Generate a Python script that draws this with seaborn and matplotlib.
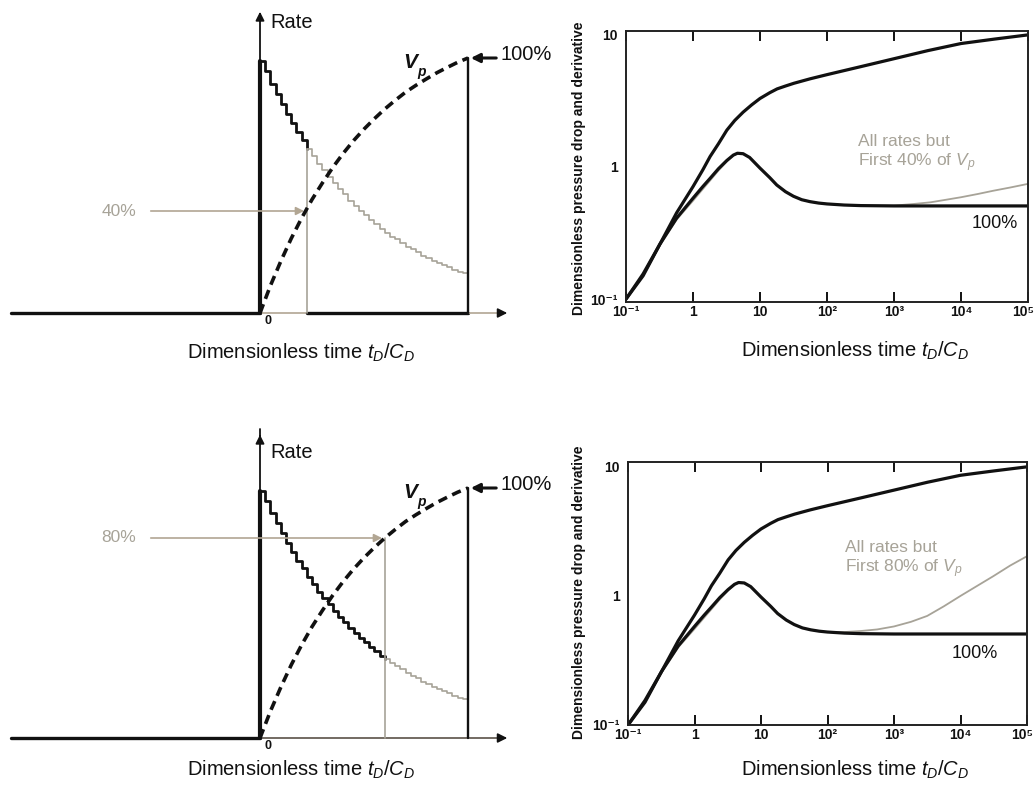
import matplotlib
matplotlib.use("Agg")
import matplotlib.pyplot as plt
from matplotlib.ticker import NullLocator
from matplotlib.transforms import ScaledTranslation
import seaborn as sns

sns.set_theme(style="white")
plt.rcParams["font.family"] = ["Liberation Sans", "DejaVu Sans"]
plt.rcParams["mathtext.fontset"] = "custom"
plt.rcParams["mathtext.rm"] = "Liberation Sans"
plt.rcParams["mathtext.it"] = "Liberation Sans:italic"
plt.rcParams["mathtext.bf"] = "Liberation Sans:bold"

# ---------------- data ----------------
# rate history (normalised), step start times (dimensionless, end of history = 1)
rate_time = [0.000, 0.025, 0.050, 0.075, 0.100, 0.125, 0.150, 0.175, 0.200, 0.225,
             0.250, 0.275, 0.300, 0.325, 0.350, 0.375, 0.400, 0.425, 0.450, 0.475,
             0.500, 0.525, 0.550, 0.575, 0.600, 0.625, 0.650, 0.675, 0.700, 0.725,
             0.750, 0.775, 0.800, 0.825, 0.850, 0.875, 0.900, 0.925, 0.950, 0.975, 1.000]
rate_values = [0.99, 0.95, 0.90, 0.86, 0.82, 0.78, 0.745, 0.71, 0.68, 0.645,
               0.615, 0.585, 0.56, 0.535, 0.51, 0.485, 0.465, 0.44, 0.42, 0.40,
               0.385, 0.365, 0.35, 0.33, 0.315, 0.30, 0.29, 0.275, 0.26, 0.25,
               0.24, 0.225, 0.215, 0.205, 0.195, 0.19, 0.18, 0.17, 0.16, 0.155, 0.145]
# cumulative produced volume Vp (fraction of total)
vp_time = [0.00, 0.05, 0.10, 0.15, 0.20, 0.25, 0.30, 0.35, 0.40, 0.45, 0.50,
           0.55, 0.60, 0.65, 0.70, 0.75, 0.80, 0.85, 0.90, 0.95, 1.00]
vp_values = [0.0, 0.107, 0.203, 0.292, 0.372, 0.445, 0.510, 0.571, 0.626, 0.676, 0.721,
             0.762, 0.800, 0.834, 0.866, 0.893, 0.918, 0.942, 0.963, 0.983, 1.0]
pct_levels = [0.40, 0.80]
pct_labels = ["40%", "80%"]
cut_times = [0.225, 0.600]

# log-log type curves
p_time = [0.1, 0.18, 0.32, 0.57, 1.0, 1.4, 1.8, 2.4, 3.2, 4.2, 5.6, 7.5, 10, 14, 18, 24, 32,
          56, 100, 320, 1000, 3200, 1e4, 3.2e4, 1e5]
p_drop = [0.1, 0.155, 0.26, 0.45, 0.71, 0.95, 1.2, 1.5, 1.9, 2.25, 2.6, 2.95, 3.3, 3.65, 3.9,
          4.1, 4.3, 4.65, 5.0, 5.75, 6.6, 7.6, 8.6, 9.3, 10.0]
d_time = [0.1, 0.18, 0.32, 0.57, 1.0, 1.4, 1.8, 2.4, 3.2, 4.0, 4.6, 5.6, 7.0, 10, 14, 17.8,
          24, 31.6, 42, 56, 75, 100, 180, 320, 1000, 1e4, 1e5]
d_values = [0.1, 0.15, 0.26, 0.41, 0.58, 0.71, 0.82, 0.97, 1.12, 1.23, 1.27, 1.26, 1.18, 0.98,
            0.83, 0.73, 0.65, 0.60, 0.565, 0.546, 0.533, 0.525, 0.515, 0.51, 0.507, 0.507, 0.507]
part40_time = [0.1, 0.18, 0.32, 0.57, 1.0, 1.4, 1.8, 2.4, 3.2, 4.0, 4.6, 5.6, 7.0, 10, 14, 17.8,
               24, 31.6, 42, 56, 75, 100, 180, 320, 1000, 2000, 3500, 6000, 1e4, 1.8e4, 3e4,
               5.5e4, 1e5]
part40_values = [0.1, 0.15, 0.255, 0.40, 0.555, 0.68, 0.79, 0.94, 1.10, 1.22, 1.27, 1.26, 1.18,
                 0.98, 0.83, 0.73, 0.65, 0.60, 0.565, 0.546, 0.533, 0.525, 0.515, 0.51, 0.51,
                 0.525, 0.54, 0.565, 0.59, 0.625, 0.66, 0.70, 0.745]
part80_time = [0.1, 0.18, 0.32, 0.57, 1.0, 1.4, 1.8, 2.4, 3.2, 4.0, 4.6, 5.6, 7.0, 10, 14, 17.8,
               24, 31.6, 42, 56, 75, 100, 180, 320, 560, 1000, 1800, 3160, 5600, 1e4, 1.8e4,
               3.1e4, 5.6e4, 1e5]
part80_values = [0.1, 0.15, 0.255, 0.40, 0.555, 0.68, 0.79, 0.94, 1.10, 1.22, 1.27, 1.26, 1.18,
                 0.98, 0.83, 0.73, 0.65, 0.60, 0.565, 0.546, 0.533, 0.525, 0.525, 0.535, 0.55,
                 0.58, 0.63, 0.70, 0.83, 1.0, 1.2, 1.42, 1.72, 2.03]
partial_times = [part40_time, part80_time]
partial_values = [part40_values, part80_values]

xtick_vals = [0.1, 1, 10, 100, 1e3, 1e4, 1e5]
xtick_labels = ["10⁻¹", "1", "10", "10²", "10³", "10⁴", "10⁵"]
ytick_vals = [0.1, 1, 10]
ytick_labels = ["10⁻¹", "1", "10"]

# ---------------- styling ----------------
W, H = 1036, 786
BLACK = "#111111"
GRAY = "#a7a398"
TAN = "#b2a693"
LABEL_TXT = "Dimensionless time $t_D/C_D$"

fig = plt.figure(figsize=(W / 100, H / 100), dpi=100)
fig.patch.set_facecolor("white")


def fx(x):
    return x / W


def fy(y):
    return 1 - y / H


def line(ax, xs, ys, **kw):
    sns.lineplot(x=xs, y=ys, ax=ax, estimator=None, sort=False, legend=False, **kw)
    return ax.lines[-1]


def draw_schedule(row, box_top, box_bot, oy, uy, xlab_y):
    ox, ux = 260.0, 208.0
    ax = fig.add_axes([0, fy(box_bot), 560 / W, (box_bot - box_top) / H])
    ax.set_xlim((0 - ox) / ux, (560 - ox) / ux)
    ax.set_ylim((oy - box_bot) / uy, (oy - box_top) / uy)
    ax.axis("off")
    tx = lambda px: (px - ox) / ux
    vy = lambda py: (oy - py) / uy
    pct = pct_levels[row]
    t_cut = cut_times[row]
    i_cut = rate_time.index(t_cut)
    rate_cut = rate_values[i_cut]

    # horizontal (time) axis
    line(ax, [tx(11), 0], [0, 0], color=BLACK, lw=2.4)
    if row == 0:
        line(ax, [0, t_cut], [0, 0], color=TAN, lw=1.2)
        line(ax, [t_cut, 1.0], [0, 0], color=BLACK, lw=2.4)
        line(ax, [1.0, tx(500)], [0, 0], color=TAN, lw=1.2)
    else:
        line(ax, [0, tx(500)], [0, 0], color="#5a5248", lw=1.2)
    ax.annotate("", xy=(tx(510), 0), xytext=(tx(496), 0),
                arrowprops=dict(arrowstyle="-|>", color=BLACK, lw=1.2, mutation_scale=14))
    # rate axis
    line(ax, [0, 0], [0, vy(box_top + 14)], color=BLACK, lw=1.3)
    ax.annotate("", xy=(0, vy(box_top + 9 if row == 0 else box_top + 17)), xytext=(0, vy(box_top + 24)),
                arrowprops=dict(arrowstyle="-|>", color=BLACK, lw=1.2, mutation_scale=13))
    # jump of rate at t=0
    line(ax, [0, 0], [0, rate_values[0]], color=BLACK, lw=3.0)
    # rate staircase: kept part black, rest gray
    line(ax, rate_time[:i_cut + 1], rate_values[:i_cut + 1], color=BLACK, lw=2.0,
         drawstyle="steps-post")
    line(ax, rate_time[i_cut:], rate_values[i_cut:], color=GRAY, lw=1.2,
         drawstyle="steps-post")
    # cut marker line and end line
    line(ax, [t_cut, t_cut], [0, max(pct, rate_cut)], color=GRAY, lw=1.2)
    line(ax, [1.0, 1.0], [0, 1.0], color=BLACK, lw=1.7)
    # Vp dashed curve
    ln = line(ax, vp_time, vp_values, color=BLACK, lw=2.6)
    ln.set_dashes((2.6, 1.6))
    # percentage arrow
    ax.annotate("", xy=(t_cut, pct), xytext=(tx(148), pct),
                arrowprops=dict(arrowstyle="-|>", color=TAN, lw=1.2, mutation_scale=12))
    ax.text(tx(136), pct, pct_labels[row], color=GRAY, fontsize=12.5, ha="right", va="center")
    # 100% arrow
    ax.annotate("", xy=(1.0, 1.0), xytext=(tx(499), 1.0),
                arrowprops=dict(arrowstyle="-|>", color=BLACK, lw=2.2, mutation_scale=13))
    ax.text(tx(501), 1.0 + 3 / uy, "100%", color=BLACK, fontsize=14.5, ha="left", va="center")
    # labels
    ax.text(tx(270), vy(box_top + 22 if row == 0 else box_top + 38), "Rate", color=BLACK,
            fontsize=14.5, ha="left", va="center")
    ax.text(tx(410), vy(oy - 251 if row == 0 else oy - 245), "V", color=BLACK, fontsize=15,
            fontweight="bold", fontstyle="italic", ha="center", va="center")
    ax.text(tx(422), vy(oy - 241 if row == 0 else oy - 236), "p", color=BLACK, fontsize=10,
            fontweight="bold", fontstyle="italic", ha="center", va="center")
    ax.text(tx(268), vy(oy + 8), "0", color=BLACK, fontsize=9, fontweight="bold",
            ha="center", va="center")
    fig.text(fx(301), fy(xlab_y), LABEL_TXT, fontsize=14.5, ha="center", va="center",
             color=BLACK)


def draw_typecurve(row, x0, x1, y0, y1, ylim, txt_xy, pct_xy, ylab_y, xlab_y):
    ax = fig.add_axes([fx(x0), fy(y1), (x1 - x0) / W, (y1 - y0) / H])
    ax.set_xscale("log")
    ax.set_yscale("log")
    line(ax, partial_times[row], partial_values[row], color=GRAY, lw=1.3)
    line(ax, d_time, d_values, color=BLACK, lw=2.3)
    line(ax, p_time, p_drop, color=BLACK, lw=2.3)
    ax.set_xlim(0.1, 1e5)
    ax.set_ylim(*ylim)
    ax.set_xticks(xtick_vals)
    ax.set_xticklabels(xtick_labels, fontsize=10, fontweight="bold")
    ax.set_yticks(ytick_vals)
    ax.set_yticklabels(ytick_labels, fontsize=10, fontweight="bold")
    ax.xaxis.set_minor_locator(NullLocator())
    ax.yaxis.set_minor_locator(NullLocator())
    ax.tick_params(axis="x", which="major", direction="in", length=7, width=1.4,
                   top=True, bottom=True, pad=2, colors=BLACK)
    ax.tick_params(axis="y", which="major", length=0, pad=6, colors=BLACK)
    last = ax.get_xticklabels()[-1]
    last.set_transform(last.get_transform() + ScaledTranslation(-0.05, 0, fig.dpi_scale_trans))
    ax.set_xlabel("")
    ax.set_ylabel("")
    for sp in ax.spines.values():
        sp.set_color("#222222")
        sp.set_linewidth(1.4)
    ax.set_facecolor("white")
    fig.text(fx(txt_xy[0]), fy(txt_xy[1]), "All rates but\nFirst %s of $V_p$" % pct_labels[row],
             color=GRAY, fontsize=12.5, ha="left", va="center", linespacing=1.15)
    fig.text(fx(pct_xy[0]), fy(pct_xy[1]), "100%", color=BLACK, fontsize=13,
             ha="center", va="center")
    fig.text(fx(579), fy(ylab_y), "Dimensionless pressure drop and derivative", rotation=90,
             fontsize=10, fontweight="bold", ha="center", va="center", color=BLACK)
    fig.text(fx(855), fy(xlab_y), LABEL_TXT, fontsize=14.5, ha="center", va="center",
             color=BLACK)


draw_schedule(0, 0, 395, 313, 255, 353)
draw_schedule(1, 415, 786, 738, 250, 770)
draw_typecurve(0, 626, 1028, 31, 302, (0.095, 10.7), (858, 154), (995, 224), 168, 351)
draw_typecurve(1, 628, 1027, 462, 725, (0.1, 10.9), (845, 560), (975, 653), 592, 770)

fig.savefig("out.png", dpi=100, facecolor="white")
